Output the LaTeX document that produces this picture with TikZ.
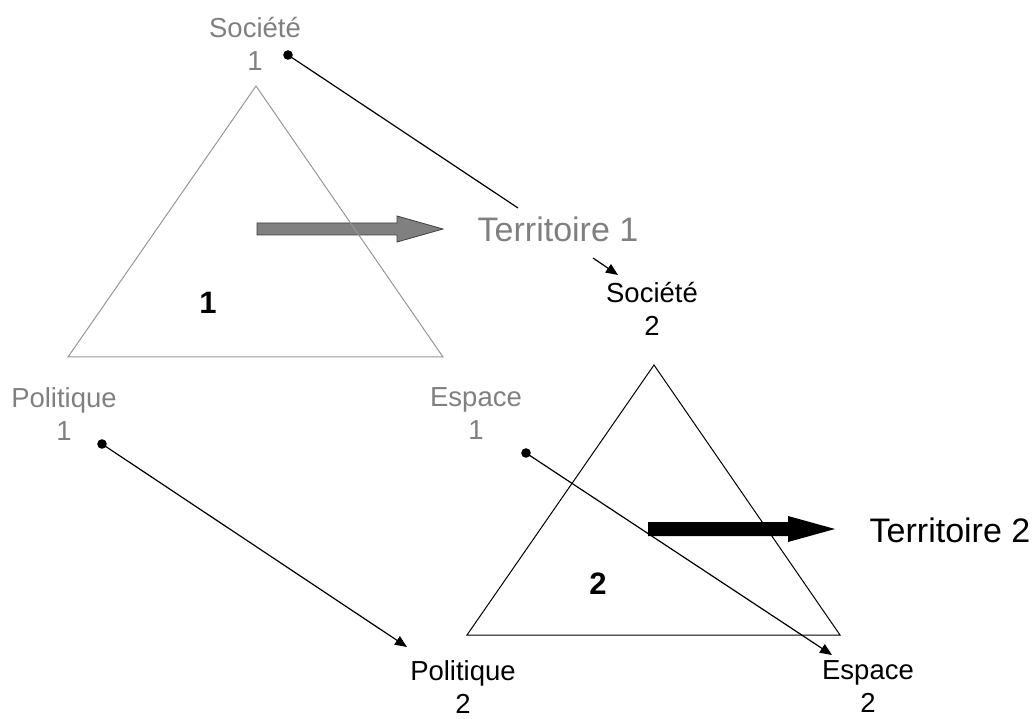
\documentclass[tikz,border=0pt]{standalone}
\usepackage{fontspec}
\setmainfont{Liberation Sans}
\usetikzlibrary{arrows.meta}
\definecolor{txtgray}{RGB}{128,128,128}
\definecolor{trigray}{RGB}{150,150,150}
\tikzset{
  vlabel/.style={align=center, inner sep=0pt, font=\fontsize{27.5}{33}\selectfont},
  grey1/.style={text=txtgray},
  terr/.style={anchor=base, inner sep=0pt, font=\fontsize{34}{40}\selectfont},
  num/.style={anchor=base, inner sep=0pt, font=\fontsize{31}{36}\selectfont\bfseries},
  conn/.style={line width=1.2pt, draw=black},
  tip/.style={-{Triangle[length=12pt,width=10pt]}},
  dot/.style={fill=black, draw=none},
}
\begin{document}
\begin{tikzpicture}[x=1pt,y=-1pt]
\useasboundingbox (0,0) rectangle (1034,719);
% block arrows
\draw[fill=txtgray, draw=black!75, line width=0.8pt]
  (257,223) -- (397,223) -- (397,216) -- (443,229) -- (397,242) -- (397,235) -- (257,235) -- cycle;
\fill[black]
  (648,522) -- (788,522) -- (788,516) -- (835,529) -- (788,542) -- (788,536) -- (648,536) -- cycle;
% triangles
\draw[trigray, line width=1pt, line join=miter] (256,86) -- (443,357) -- (68,357) -- cycle;
\draw[black, line width=1pt, line join=miter] (654,365) -- (840,635) -- (467,635) -- cycle;
% labels
\node[vlabel, grey1] (soc1) at (255,44) {Société\\1};
\node[vlabel, grey1] (pol1) at (64,414) {Politique\\1};
\node[vlabel, grey1] (esp1) at (476,414) {Espace\\1};
\node[vlabel] (soc2) at (652,309) {Société\\2};
\node[vlabel] (pol2) at (463,687) {Politique\\2};
\node[vlabel] (esp2) at (868,687) {Espace\\2};
\node[terr, text=txtgray] (ter1) at (558,242) {Territoire 1};
\node[terr] (ter2) at (950,542) {Territoire 2};
\node[num] (n1) at (208,314) {1};
\node[num] (n2) at (598,594) {2};
% connector ends
\coordinate (d1) at (288,55);
\coordinate (d2) at (102,444);
\coordinate (d3) at (526,453);
\coordinate (e1) at (518,208);
\coordinate (s0) at (593,258);
\coordinate (s1) at (618,275);
\coordinate (e2) at (407,647);
\coordinate (e3) at (832,655);
% connectors
\draw[conn] (d1) -- (e1);
\draw[conn, tip] (s0) -- (s1);
\draw[conn, tip] (d2) -- (e2);
\draw[conn, tip] (d3) -- (e3);
\fill[dot] (d1) circle (4.8);
\fill[dot] (d2) circle (4.8);
\fill[dot] (d3) circle (4.8);
\end{tikzpicture}
\end{document}
